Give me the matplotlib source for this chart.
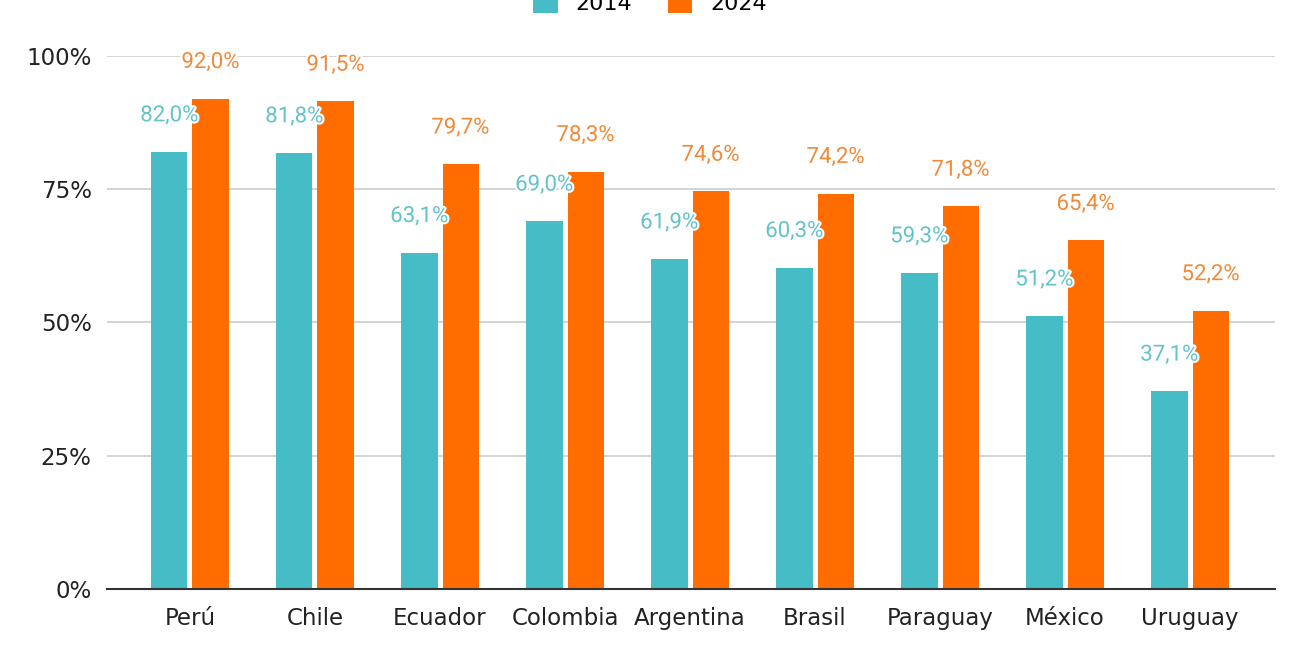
import numpy as np
import matplotlib
matplotlib.use("Agg")
import matplotlib.pyplot as plt
import matplotlib.patheffects as pe

paises = ["Perú", "Chile", "Ecuador", "Colombia", "Argentina", "Brasil", "Paraguay", "México", "Uruguay"]
v2014 = [82.0, 81.8, 63.1, 69.0, 61.9, 60.3, 59.3, 51.2, 37.1]
v2024 = [92.0, 91.5, 79.7, 78.3, 74.6, 74.2, 71.8, 65.4, 52.2]
yticks = [0, 25, 50, 75, 100]

c14 = "#45BCC6"
c24 = "#FF6D00"
t14 = "#62C3CA"
t24 = "#F08A3A"

fig = plt.figure(figsize=(13, 6.55), dpi=100)
ax = fig.add_axes([0.0823, 0.1008, 0.8985, 0.8137])

x = np.arange(len(paises))
w = 0.29
off = 0.165
b1 = ax.bar(x - off, v2014, w, color=c14, label="2014", zorder=3)
b2 = ax.bar(x + off, v2024, w, color=c24, label="2024", zorder=3)

stroke = [pe.withStroke(linewidth=3, foreground="white")]


def fmt(v):
    return f"{v:.1f}%".replace(".", ",")


for bars, vals, col in [(b1, v2014, t14), (b2, v2024, t24)]:
    for r, v in zip(bars, vals):
        ax.annotate(fmt(v), (r.get_x() + r.get_width() / 2, v),
                    xytext=(0, 26), textcoords="offset points",
                    ha="center", va="center", fontsize=16, color=col,
                    family="Roboto", path_effects=stroke, zorder=5)

ax.set_xlim(-0.664, 8.68)
ax.set_ylim(0, 100)
ax.set_yticks(yticks)
ax.set_yticklabels([f"{t}%" for t in yticks])
ax.set_xticks(x)
ax.set_xticklabels(paises)
ax.tick_params(axis="both", length=0, labelsize=16.5, colors="#222222")
ax.tick_params(axis="x", pad=13)
ax.tick_params(axis="y", pad=11)
ax.yaxis.grid(True, color="#CCCCCC", linewidth=1.2, zorder=0)
ax.set_axisbelow(True)
for s in ["top", "right", "left"]:
    ax.spines[s].set_visible(False)
ax.spines["bottom"].set_color("#333333")
ax.spines["bottom"].set_linewidth(1.5)
ax.spines["bottom"].set_zorder(4)

fig.legend(handles=[b1, b2], labels=["2014", "2024"], loc="center",
           bbox_to_anchor=(0.5, 0.995), ncol=2, frameon=False, fontsize=16,
           handlelength=1.1, handleheight=1.1, columnspacing=1.6, handletextpad=0.8)

fig.savefig("out.png", dpi=100, facecolor="white")
